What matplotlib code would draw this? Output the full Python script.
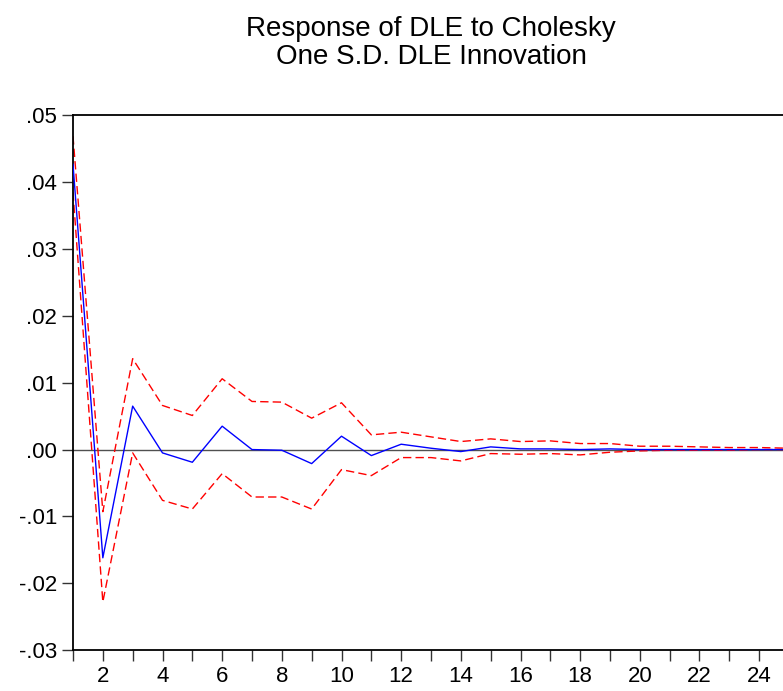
import numpy as np
import matplotlib.pyplot as plt
from matplotlib.ticker import MultipleLocator, FuncFormatter

# Impulse response of DLE to a one S.D. DLE innovation
periods = np.arange(1, 26)
response = [0.0427, -0.0162, 0.0065, -0.0005, -0.0019, 0.0035, 0.0000, -0.0001,
            -0.0021, 0.0020, -0.0009, 0.0008, 0.0002, -0.0003, 0.0004, 0.0001,
            0.0001, 0.0000, 0.0001, 0.0000, 0.0000, 0.0000, 0.0000, 0.0000, 0.0000]
upper = [0.0469, -0.0093, 0.0136, 0.0066, 0.0051, 0.0106, 0.0072, 0.0071,
         0.0047, 0.0070, 0.0022, 0.0026, 0.0019, 0.0012, 0.0016, 0.0012,
         0.0013, 0.0009, 0.0009, 0.0005, 0.0005, 0.0004, 0.0003, 0.0003, 0.0002]
lower = [0.0385, -0.0228, -0.0005, -0.0076, -0.0089, -0.0036, -0.0071, -0.0071,
         -0.0089, -0.0030, -0.0039, -0.0012, -0.0012, -0.0017, -0.0006, -0.0007,
         -0.0006, -0.0008, -0.0004, -0.0002, -0.0001, -0.0001, -0.0001, 0.0000, 0.0000]

title = "Response of DLE to Cholesky\nOne S.D. DLE Innovation"

plt.rcParams['font.family'] = ['Liberation Sans', 'DejaVu Sans']

fig = plt.figure(figsize=(7.83, 6.91), dpi=100)
# right edge of the axes lies just outside the picture, as in the reference
ax = fig.add_axes([73 / 783, 41 / 691, 716 / 783, 534.5 / 691])

ax.axhline(0, color='#505050', linewidth=1.0, zorder=1)
ax.plot(periods, upper, color='red', linewidth=1.0, dashes=(6, 3), zorder=2)
ax.plot(periods, lower, color='red', linewidth=1.0, dashes=(6, 3), zorder=2)
ax.plot(periods, response, color='blue', linewidth=1.0, zorder=3)

ax.set_xlim(1, 25)
ax.set_ylim(-0.03, 0.05)
ax.xaxis.set_major_locator(MultipleLocator(2))
ax.xaxis.set_minor_locator(MultipleLocator(1))
ax.yaxis.set_major_locator(MultipleLocator(0.01))


def fmt_y(v, pos):
    s = f"{v:.2f}"
    return s.replace("0.", ".", 1)


ax.yaxis.set_major_formatter(FuncFormatter(fmt_y))
ax.xaxis.set_major_formatter(FuncFormatter(lambda v, p: "" if v < 2 else f"{int(v)}"))

ax.tick_params(axis='both', which='both', direction='out', length=8,
               width=1.0, color='#333333', labelsize=16, pad=3.5)
for sp in ax.spines.values():
    sp.set_linewidth(1.3)
    sp.set_color('black')

ax.set_title(title, fontsize=20, pad=37, linespacing=1.1)

fig.savefig('out.png', dpi=100)
